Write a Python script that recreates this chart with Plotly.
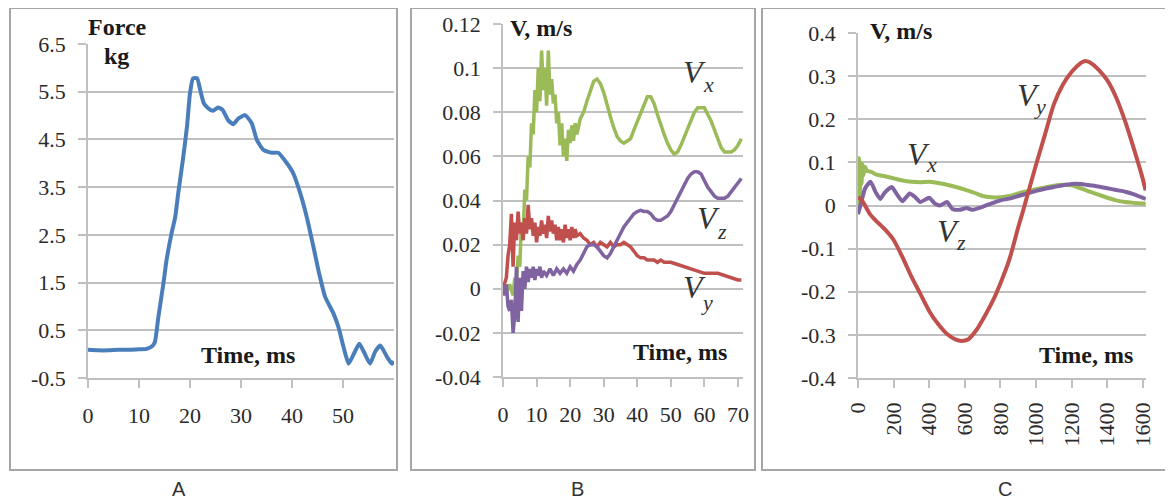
import plotly.graph_objects as go

# The page body keeps its default 8px margin, so the figure is sized to fill the
# remaining window area and all pixel positions below are window pixels.
OFF = 8
W, H = 1173 - OFF, 500 - OFF


def px(x):
    return (x - OFF) / W


def py(y):
    return 1 - (y - OFF) / H


# ---------------- Panel A: Force ----------------
A_time = [0, 2, 4, 6, 8, 10, 11.5, 12.5, 13.1, 13.8, 14.8, 15.4, 16.4, 17.1, 17.7,
          18.6, 19.4, 20.0, 20.6, 21.4, 22.0, 22.7, 23.5, 24.5, 25.5, 26.4, 27.5,
          28.5, 29.5, 30.8, 32.1, 33.1, 34.4, 36.0, 37.3, 39.0, 40.2, 41.6, 42.9,
          44.2, 45.3, 46.5, 48.1, 49.1, 50.1, 51.1, 52.1, 53.2, 54.3, 55.3, 56.3,
          57.3, 58.6, 59.6, 60]
A_force = [0.09, 0.08, 0.08, 0.09, 0.09, 0.1, 0.11, 0.16, 0.25, 0.78, 1.49, 1.97,
           2.54, 2.87, 3.38, 4.07, 4.76, 5.47, 5.78, 5.78, 5.54, 5.26, 5.16, 5.1,
           5.17, 5.12, 4.9, 4.82, 4.94, 5.01, 4.84, 4.49, 4.28, 4.22, 4.22, 4.0,
           3.8, 3.38, 2.87, 2.25, 1.7, 1.2, 0.86, 0.57, 0.15, -0.2, 0.0, 0.22,
           0.0, -0.2, 0.05, 0.18, -0.05, -0.2, -0.15]
A_xticks = [0, 10, 20, 30, 40, 50]
A_yticks = [-0.5, 0.5, 1.5, 2.5, 3.5, 4.5, 5.5, 6.5]
A_yticklabels = ["-0.5", "0.5", "1.5", "2.5", "3.5", "4.5", "5.5", "6.5"]

# ---------------- Panel B: velocities (short time) ----------------
B_vx_t = [0, 1, 2, 3, 3.5, 4, 4.5, 5, 5.5, 6, 6.5, 7, 7.5, 8, 8.5, 9, 9.5, 10, 10.5,
          11, 11.5, 12, 12.5, 13, 13.5, 14, 14.5, 15, 15.5, 16, 16.5, 17, 17.5, 18,
          18.5, 19, 19.5, 20, 20.5, 21, 21.5, 22, 23, 24, 25, 26, 27, 28, 29, 30,
          31, 32, 33, 34, 35, 36, 37, 38, 39, 40, 41, 42, 43, 44, 45, 46, 47, 48,
          49, 50, 51, 52, 53, 54, 55, 56, 57, 58, 59, 60, 61, 62, 63, 64, 65, 66,
          67, 68, 69, 70, 71]
B_vx = [0, -0.002, 0.002, -0.003, 0.005, 0.002, 0.015, 0.01, 0.03, 0.025, 0.045,
        0.04, 0.06, 0.055, 0.075, 0.07, 0.09, 0.08, 0.1, 0.085, 0.108, 0.09, 0.1,
        0.083, 0.108, 0.088, 0.095, 0.084, 0.088, 0.075, 0.08, 0.065, 0.075, 0.06,
        0.068, 0.058, 0.072, 0.066, 0.074, 0.067, 0.075, 0.07, 0.077, 0.08, 0.085,
        0.09, 0.094, 0.095, 0.093, 0.089, 0.083, 0.078, 0.073, 0.069, 0.067, 0.066,
        0.067, 0.068, 0.072, 0.076, 0.08, 0.084, 0.087, 0.087, 0.084, 0.079, 0.074,
        0.07, 0.066, 0.063, 0.061, 0.062, 0.065, 0.069, 0.073, 0.077, 0.08, 0.082,
        0.082, 0.082, 0.079, 0.076, 0.072, 0.068, 0.064, 0.062, 0.062, 0.062,
        0.063, 0.065, 0.068]

B_vy_t = [0, 1, 1.5, 2, 2.5, 3, 3.5, 4, 4.5, 5, 5.5, 6, 6.5, 7, 7.5, 8, 8.5, 9, 9.5,
          10, 10.5, 11, 11.5, 12, 12.5, 13, 13.5, 14, 14.5, 15, 15.5, 16, 16.5, 17,
          17.5, 18, 18.5, 19, 19.5, 20, 20.5, 21, 21.5, 22, 23, 24, 25, 26, 27, 28,
          29, 30, 31, 32, 33, 34, 35, 36, 37, 38, 39, 40, 41, 42, 43, 44, 45, 46,
          47, 48, 49, 50, 52, 54, 56, 58, 60, 62, 64, 66, 68, 70, 71]
B_vy = [0, 0.005, 0.015, 0.02, 0.034, 0.01, 0.03, 0.022, 0.035, 0.025, 0.03,
        0.022, 0.032, 0.025, 0.038, 0.027, 0.032, 0.024, 0.03, 0.021, 0.028, 0.024,
        0.031, 0.025, 0.029, 0.023, 0.033, 0.026, 0.031, 0.025, 0.029, 0.022,
        0.028, 0.022, 0.027, 0.021, 0.029, 0.023, 0.027, 0.022, 0.028, 0.023,
        0.027, 0.024, 0.025, 0.023, 0.022, 0.02, 0.021, 0.019, 0.021, 0.02, 0.019,
        0.021, 0.019, 0.02, 0.02, 0.021, 0.02, 0.019, 0.017, 0.015, 0.014, 0.014,
        0.013, 0.013, 0.013, 0.012, 0.013, 0.012, 0.012, 0.012, 0.011, 0.01,
        0.009, 0.008, 0.007, 0.007, 0.007, 0.006, 0.005, 0.004, 0.004]

B_vz_t = [0, 0.5, 1, 1.5, 2, 2.5, 3, 3.5, 4, 4.5, 5, 5.5, 6, 6.5, 7, 7.5, 8, 8.5, 9,
          9.5, 10, 10.5, 11, 11.5, 12, 13, 14, 15, 16, 17, 18, 19, 20, 21, 22, 23,
          24, 25, 26, 27, 28, 29, 30, 31, 32, 33, 34, 35, 36, 37, 38, 39, 40, 41,
          42, 43, 44, 45, 46, 47, 48, 49, 50, 51, 52, 53, 54, 55, 56, 57, 58, 59,
          60, 61, 62, 63, 64, 65, 66, 67, 68, 69, 70, 71]
B_vz = [0, -0.003, 0.002, -0.008, -0.01, -0.005, -0.02, -0.012, 0.01, -0.015,
        0.005, -0.01, 0.008, 0.0, 0.01, 0.003, 0.009, 0.005, 0.01, 0.004, 0.009,
        0.006, 0.01, 0.005, 0.008, 0.006, 0.009, 0.006, 0.009, 0.007, 0.009,
        0.007, 0.01, 0.008, 0.011, 0.013, 0.016, 0.019, 0.02, 0.02, 0.019, 0.017,
        0.015, 0.014, 0.016, 0.019, 0.022, 0.025, 0.028, 0.03, 0.032, 0.034,
        0.035, 0.0355, 0.035, 0.035, 0.034, 0.032, 0.031, 0.031, 0.032, 0.033,
        0.035, 0.038, 0.041, 0.044, 0.047, 0.05, 0.052, 0.053, 0.053, 0.052,
        0.049, 0.046, 0.044, 0.042, 0.041, 0.041, 0.041, 0.042, 0.044, 0.046,
        0.048, 0.05]
B_xticks = [0, 10, 20, 30, 40, 50, 60, 70]
B_yticks = [-0.04, -0.02, 0, 0.02, 0.04, 0.06, 0.08, 0.1, 0.12]
B_yticklabels = ["-0.04", "-0.02", "0", "0.02", "0.04", "0.06", "0.08", "0.1", "0.12"]

# ---------------- Panel C: velocities (long time) ----------------
C_vy_t = [0, 25, 67, 100, 150, 200, 250, 300, 350, 400, 450, 500, 550, 580, 620,
          668, 700, 758, 800, 850, 900, 927, 950, 1000, 1050, 1100, 1150, 1200,
          1250, 1275, 1300, 1350, 1400, 1450, 1500, 1550, 1600, 1615]
C_vy = [0.02, 0.01, -0.02, -0.035, -0.055, -0.08, -0.12, -0.165, -0.205, -0.245,
        -0.275, -0.298, -0.311, -0.314, -0.31, -0.287, -0.265, -0.22, -0.18,
        -0.125, -0.05, -0.012, 0.022, 0.095, 0.165, 0.235, 0.28, 0.31, 0.33,
        0.335, 0.332, 0.315, 0.29, 0.25, 0.195, 0.13, 0.06, 0.035]

C_vx_t = [0, 5, 10, 15, 20, 25, 30, 40, 50, 75, 100, 150, 200, 250, 300, 350, 400,
          450, 500, 550, 600, 650, 700, 750, 800, 850, 900, 950, 1000, 1050, 1100,
          1150, 1200, 1250, 1300, 1350, 1400, 1450, 1500, 1550, 1615]
C_vx = [0.0, 0.11, 0.02, 0.1, 0.05, 0.095, 0.07, 0.09, 0.08, 0.078, 0.072, 0.068,
        0.063, 0.058, 0.055, 0.054, 0.055, 0.052, 0.048, 0.043, 0.037, 0.03,
        0.022, 0.019, 0.019, 0.022, 0.028, 0.033, 0.038, 0.042, 0.046, 0.048,
        0.047, 0.04, 0.032, 0.025, 0.018, 0.012, 0.008, 0.006, 0.004]

C_vz_t = [0, 20, 40, 70, 100, 125, 150, 190, 220, 250, 290, 320, 350, 400, 430, 460,
          500, 530, 570, 610, 640, 700, 750, 800, 850, 900, 950, 1000, 1050, 1100,
          1150, 1200, 1250, 1300, 1350, 1400, 1450, 1500, 1550, 1615]
C_vz = [-0.02, 0.01, 0.04, 0.055, 0.03, 0.015, 0.03, 0.043, 0.025, 0.01, 0.028,
        0.02, 0.008, 0.018, 0.005, 0.0, 0.008, -0.008, -0.01, -0.006, -0.01,
        -0.003, 0.005, 0.012, 0.016, 0.022, 0.028, 0.034, 0.039, 0.043, 0.047,
        0.05, 0.05, 0.047, 0.044, 0.04, 0.036, 0.032, 0.026, 0.015]
C_xticks = [0, 200, 400, 600, 800, 1000, 1200, 1400, 1600]
C_yticks = [-0.4, -0.3, -0.2, -0.1, 0, 0.1, 0.2, 0.3, 0.4]
C_yticklabels = ["-0.4", "-0.3", "-0.2", "-0.1", "0", "0.1", "0.2", "0.3", "0.4"]

BLUE = "#4a7ebb"
GREEN = "#9bbb59"
RED = "#c0504d"
PURPLE = "#8064a2"
GRID = "#c0c0c0"

fig = go.Figure()

fig.add_trace(go.Scatter(x=A_time, y=A_force, mode="lines", xaxis="x", yaxis="y",
                         line=dict(color=BLUE, width=4, shape="spline", smoothing=0.5)))

fig.add_trace(go.Scatter(x=B_vx_t, y=B_vx, mode="lines", xaxis="x2", yaxis="y2",
                         line=dict(color=GREEN, width=3.5)))
fig.add_trace(go.Scatter(x=B_vy_t, y=B_vy, mode="lines", xaxis="x2", yaxis="y2",
                         line=dict(color=RED, width=3.5)))
fig.add_trace(go.Scatter(x=B_vz_t, y=B_vz, mode="lines", xaxis="x2", yaxis="y2",
                         line=dict(color=PURPLE, width=3.5)))

fig.add_trace(go.Scatter(x=C_vx_t, y=C_vx, mode="lines", xaxis="x3", yaxis="y3",
                         line=dict(color=GREEN, width=4, shape="spline", smoothing=0.5)))
fig.add_trace(go.Scatter(x=C_vz_t, y=C_vz, mode="lines", xaxis="x3", yaxis="y3",
                         line=dict(color=PURPLE, width=4, shape="spline", smoothing=0.5)))
fig.add_trace(go.Scatter(x=C_vy_t, y=C_vy, mode="lines", xaxis="x3", yaxis="y3",
                         line=dict(color=RED, width=4, shape="spline", smoothing=0.6)))

tick_font = dict(family="Liberation Serif", size=22, color="#2a2a2a")
common = dict(showline=True, linecolor=GRID, linewidth=1.5, ticks="outside", ticklen=8,
              tickcolor=GRID, tickwidth=1.5, tickfont=tick_font, zeroline=False,
              fixedrange=True, automargin=False)
xcommon = dict(showgrid=False, **common)
ycommon = dict(showgrid=True, gridcolor=GRID, gridwidth=1.5, **common)

fig.update_layout(
    width=W, height=H, autosize=False,
    margin=dict(l=0, r=0, t=0, b=0, pad=0, autoexpand=False),
    paper_bgcolor="white", plot_bgcolor="white", showlegend=False,
    xaxis=dict(domain=[px(88), px(394)], range=[0, 60], tickvals=A_xticks,
               ticktext=[str(v) for v in A_xticks], anchor="y", ticklabelstandoff=9,
               **xcommon),
    yaxis=dict(domain=[py(378), py(44)], range=[-0.5, 6.5], tickvals=A_yticks,
               ticktext=A_yticklabels, anchor="x", ticklabelstandoff=8, **ycommon),
    xaxis2=dict(domain=[px(503), px(743)], range=[0, 71.5], tickvals=B_xticks,
                ticktext=[str(v) for v in B_xticks], anchor="y2", ticklabelstandoff=9,
                **xcommon),
    yaxis2=dict(domain=[py(377), py(24)], range=[-0.04, 0.12], tickvals=B_yticks,
                ticktext=B_yticklabels, anchor="x2", ticklabelstandoff=8, **ycommon),
    xaxis3=dict(domain=[px(858), px(1146)], range=[0, 1617], tickvals=C_xticks,
                ticktext=[str(v) for v in C_xticks], anchor="y3", tickangle=-90,
                ticklabelstandoff=6, **xcommon),
    yaxis3=dict(domain=[py(378), py(33)], range=[-0.4, 0.4], tickvals=C_yticks,
                ticktext=C_yticklabels, anchor="x3", ticklabelstandoff=8, **ycommon),
)

# frames
for x0, x1 in [(10, 397), (411, 755), (762, 1171)]:
    fig.add_shape(type="rect", xref="paper", yref="paper", x0=px(x0), x1=px(x1),
                  y0=py(470), y1=py(8), line=dict(color="#a6a6a6", width=2),
                  fillcolor="rgba(0,0,0,0)", layer="below")

bold = dict(family="Liberation Serif", size=24, color="#1a1a1a")
vfont = dict(family="Liberation Serif", size=32, color="#333333")
sfont = dict(family="Liberation Serif", size=22, color="#333333")


def ann(text, x, y, font, xanchor="center", bg=None):
    d = dict(text=text, x=px(x), y=py(y), xref="paper", yref="paper", showarrow=False,
             font=font, xanchor=xanchor, yanchor="middle")
    if bg:
        d["bgcolor"] = bg
        d["borderpad"] = 2
    fig.add_annotation(**d)


ann("<b>Force</b>", 117, 27, bold)
ann("<b>kg</b>", 116, 56, bold)
ann("<b>Time, ms</b>", 248, 355, bold)

ann("<b>V, m/s</b>&nbsp;&nbsp;&nbsp;&nbsp;&nbsp;", 507, 28, bold, xanchor="left", bg="white")
ann("<b>Time, ms</b>", 680, 352, bold)

ann("<b>V, m/s</b>", 867, 31, bold, xanchor="left", bg="white")
ann("<b>Time, ms</b>", 1086, 355, bold)

# velocity component labels (V + subscript)
for (vx, vy, sx, sy, s) in [(694, 72, 708, 84, "x"), (708, 218, 722, 231, "z"),
                            (694, 287, 707, 302, "y"),
                            (1028, 95, 1040, 106, "y"), (918, 154, 931, 164, "x"),
                            (948, 231, 961, 242, "z")]:
    ann("<i>V</i>", vx, vy, vfont)
    ann("<i>" + s + "</i>", sx, sy, sfont)

panel_font = dict(family="Liberation Sans", size=20, color="#333333")
ann("A", 179, 489, panel_font)
ann("B", 577, 489, panel_font)
ann("C", 1005, 489, panel_font)

fig.write_html("out.html")
